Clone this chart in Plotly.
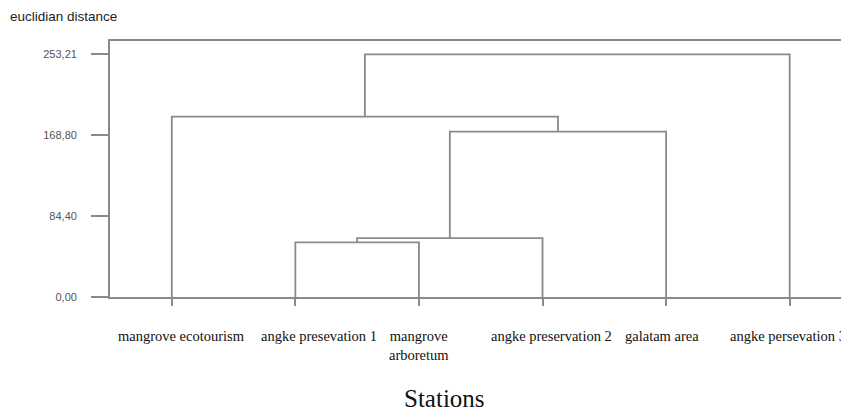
import plotly.graph_objects as go

# ---- data ----
stations = ["mangrove ecotourism", "angke presevation 1", "mangrove<br>arboretum",
            "angke preservation 2", "galatam area", "angke persevation 3"]
# merges: (node_a, node_b, height); leaves are 0..5, new clusters numbered 6, 7, ...
merge_a = [1, 6, 7, 0, 9]
merge_b = [2, 3, 4, 8, 5]
merge_height = [56.9, 61.5, 172.6, 188.2, 253.21]
tick_values = [0.0, 84.40, 168.80, 253.21]
tick_labels = ["0,00", "84,40", "168,80", "253,21"]

# ---- style ----
LINE = "#8a8a8a"
label_xshift = [10, 24, 0, 9, -4, -2]

# build dendrogram segments through the data coordinates
node_x = {i: float(i) for i in range(len(stations))}
node_y = {i: 0.0 for i in range(len(stations))}
xs, ys = [], []
for k, (a, b, h) in enumerate(zip(merge_a, merge_b, merge_height)):
    xa, xb = node_x[a], node_x[b]
    xs += [xa, xa, xb, xb, None]
    ys += [node_y[a], h, h, node_y[b], None]
    nid = len(stations) + k
    node_x[nid] = (xa + xb) / 2
    node_y[nid] = h

fig = go.Figure()
fig.add_trace(go.Scatter(x=xs, y=ys, mode="lines",
                         line=dict(color=LINE, width=1.8),
                         hoverinfo="skip", showlegend=False))

for i, name in enumerate(stations):
    fig.add_annotation(x=i, y=0, xref="x", yref="y", text=name, showarrow=False,
                       xanchor="center", yanchor="top", yshift=-29,
                       xshift=label_xshift[i], align="center",
                       font=dict(family="Liberation Serif", size=14.5, color="#111"))

fig.add_annotation(x=0.453, y=-0.398, xref="paper", yref="paper", text="Stations",
                   showarrow=False, xanchor="center", yanchor="middle",
                   font=dict(family="Liberation Serif", size=25, color="#111"))
fig.add_annotation(x=-0.138, y=1.094, xref="paper", yref="paper",
                   text="euclidian distance", showarrow=False,
                   xanchor="left", yanchor="middle",
                   font=dict(family="Liberation Sans", size=13.5, color="#222"))

fig.update_layout(
    width=841, height=404,
    margin=dict(l=102, r=0, t=33, b=115),
    paper_bgcolor="white", plot_bgcolor="white",
    showlegend=False,
    xaxis=dict(range=[-0.5, 5.48], showgrid=False, zeroline=False,
               showline=True, linecolor=LINE, linewidth=1.8, mirror=True,
               ticks="outside", ticklen=7, tickcolor=LINE, tickwidth=1.8,
               tickvals=list(range(len(stations))), showticklabels=False),
    yaxis=dict(range=[0, 267.1], showgrid=False, zeroline=False,
               showline=True, linecolor=LINE, linewidth=1.8,
               ticks="outside", ticklen=17, tickcolor=LINE, tickwidth=1.8,
               tickvals=tick_values, ticktext=tick_labels,
               ticklabelstandoff=12,
               tickfont=dict(family="Liberation Sans", size=11, color="#555")),
)

fig.write_html("out.html")
